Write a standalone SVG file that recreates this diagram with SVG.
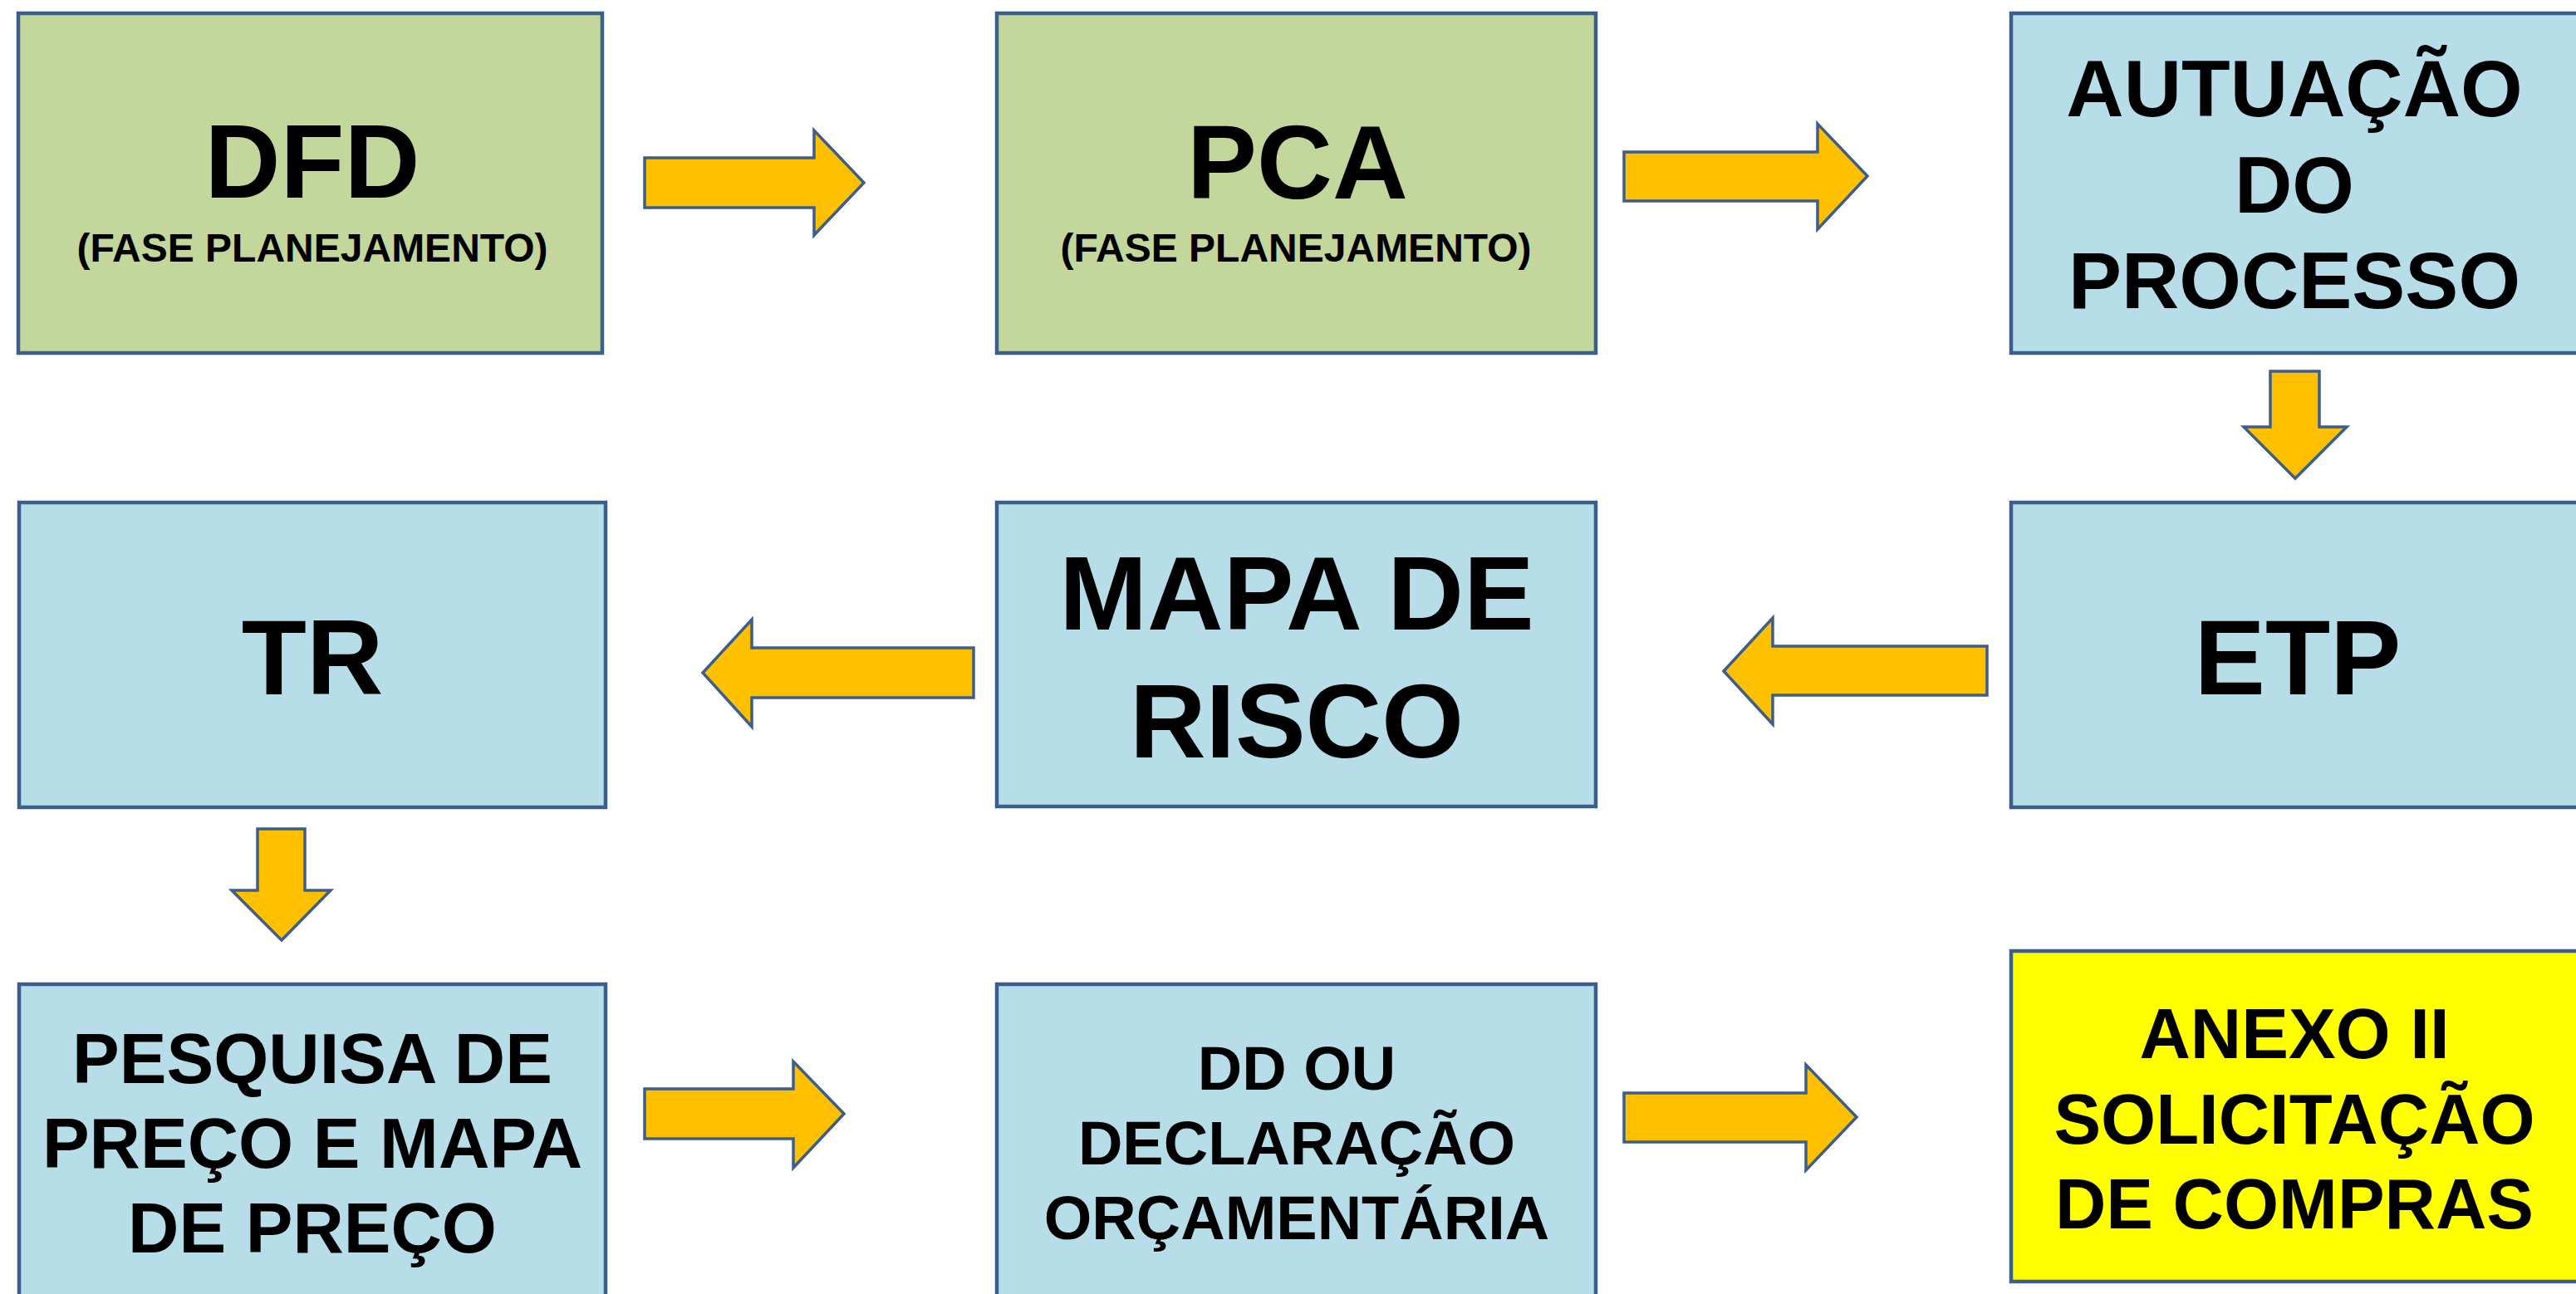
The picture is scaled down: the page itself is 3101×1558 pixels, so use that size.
<svg xmlns="http://www.w3.org/2000/svg" width="3101" height="1558" viewBox="0 0 3101 1558">
<style>
.box{stroke:#3B5E8C;stroke-width:4.5}
.green{fill:#C3D69B}
.blue{fill:#B7DDE8}
.yellow{fill:#FFFF00}
.arrow{fill:#FFC000;stroke:#3B5E8C;stroke-width:3.5;stroke-linejoin:miter}
text{font-family:"Liberation Sans",Arial,sans-serif;font-weight:bold;fill:#000;text-anchor:middle}
.big{font-size:126px}
.sub{font-size:48px}
.t96{font-size:96px}
.t85{font-size:85px}
.t74{font-size:74px}
</style>
<rect width="3101" height="1558" fill="#FFFFFF"/>
<g id="connectors">
<polygon class="arrow" points="776,190 980,190 980,157 1040,220 980,283 980,250 776,250"/>
<polygon class="arrow" points="1955,183 2188,183 2188,149 2248,212 2188,276 2188,242 1955,242"/>
<polygon class="arrow" points="2733,447 2792,447 2792,514 2825,514 2763,576 2701,514 2733,514"/>
<polygon class="arrow" points="2392,778 2134,778 2134,744 2075,808 2134,872 2134,837 2392,837"/>
<polygon class="arrow" points="1172,780 905,780 905,746 846,810 905,875 905,840 1172,840"/>
<polygon class="arrow" points="310,998 367,998 367,1072 398,1072 339,1132 279,1072 310,1072"/>
<polygon class="arrow" points="776,1311 955,1311 955,1278 1016,1341 955,1406 955,1371 776,1371"/>
<polygon class="arrow" points="1955,1316 2174,1316 2174,1282 2235,1345 2174,1409 2174,1375 1955,1375"/>
</g>
<g id="dfd">
<rect class="box green" x="22" y="16" width="703" height="409"/>
<text class="big" x="376" y="238">DFD</text>
<text class="sub" x="376" y="315">(FASE PLANEJAMENTO)</text>
</g>
<g id="pca">
<rect class="box green" x="1200" y="16" width="721" height="409"/>
<text class="big" x="1562" y="239">PCA</text>
<text class="sub" x="1560" y="315">(FASE PLANEJAMENTO)</text>
</g>
<g id="autuacao">
<rect class="box blue" x="2421" y="16" width="700" height="409"/>
<text class="t96" x="2762" y="140">AUTUAÇÃO</text>
<text class="t96" x="2762" y="256">DO</text>
<text class="t96" x="2762" y="371">PROCESSO</text>
</g>
<g id="tr">
<rect class="box blue" x="23" y="605" width="706" height="367"/>
<text x="376" y="836" style="font-size:128px">TR</text>
</g>
<g id="mapa">
<rect class="box blue" x="1200" y="605" width="721" height="366"/>
<text x="1561" y="758" style="font-size:127px">MAPA DE</text>
<text x="1561" y="912" style="font-size:127px">RISCO</text>
</g>
<g id="etp">
<rect class="box blue" x="2421" y="605" width="700" height="367"/>
<text x="2766" y="836" style="font-size:128px">ETP</text>
</g>
<g id="pesquisa">
<rect class="box blue" x="23" y="1185" width="706" height="400"/>
<text class="t85" x="376" y="1304">PESQUISA DE</text>
<text class="t85" x="376" y="1406">PREÇO E MAPA</text>
<text class="t85" x="376" y="1508">DE PREÇO</text>
</g>
<g id="dd">
<rect class="box blue" x="1200" y="1185" width="721" height="400"/>
<text class="t74" x="1561" y="1312">DD OU</text>
<text class="t74" x="1561" y="1402">DECLARAÇÃO</text>
<text class="t74" x="1561" y="1492">ORÇAMENTÁRIA</text>
</g>
<g id="anexo">
<rect class="box yellow" x="2421" y="1145" width="700" height="398"/>
<text class="t85" x="2762" y="1274">ANEXO II</text>
<text class="t85" x="2762" y="1377">SOLICITAÇÃO</text>
<text class="t85" x="2762" y="1479">DE COMPRAS</text>
</g>
</svg>
